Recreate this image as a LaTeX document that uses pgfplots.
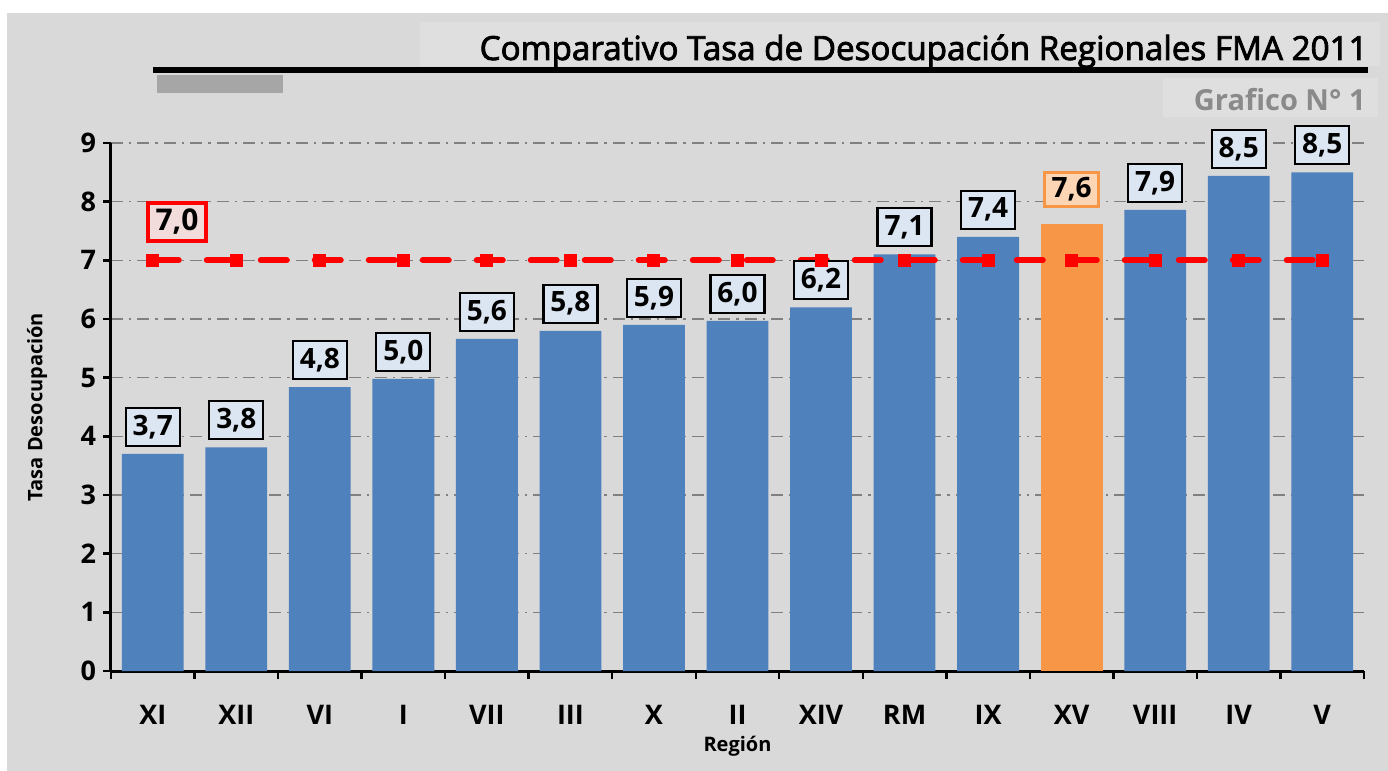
\documentclass[border=0pt]{standalone}
\usepackage{pgfplots}
\pgfplotsset{compat=1.18}
\usepackage{pgfplotstable}
\usepackage{fontspec}
\setmainfont{Open Sans}
\newfontfamily\titlefont[FakeBold=2.5]{Open Sans}
\definecolor{bg}{HTML}{D9D9D9}
\definecolor{tbox}{HTML}{DFDFDF}
\definecolor{gridc}{HTML}{808080}
\definecolor{barblue}{HTML}{4F81BD}
\definecolor{barorange}{HTML}{F79646}
\definecolor{lblue}{HTML}{DCE6F2}
\definecolor{lorange}{HTML}{FCD5B4}
\definecolor{lred}{HTML}{F2DCDB}
\definecolor{grayrect}{HTML}{A6A6A6}
\definecolor{graftext}{HTML}{8A8A8A}
\pgfplotstableread{
x y lab
0 3.70 3,7
1 3.81 3,8
2 4.84 4,8
3 4.98 5,0
4 5.66 5,6
5 5.80 5,8
6 5.90 5,9
7 5.97 6,0
8 6.20 6,2
9 7.10 7,1
10 7.40 7,4
12 7.86 7,9
13 8.44 8,5
14 8.50 8,5
}\bluedata
\pgfplotstableread{
x y lab
11 7.62 7,6
}\orangedata
\pgfplotstableread{
x y
0 7
1 7
2 7
3 7
4 7
5 7
6 7
7 7
8 7
9 7
10 7
11 7
12 7
13 7
14 7
}\refline
\begin{document}
\begin{tikzpicture}
\path[use as bounding box] (0,0) rectangle (694pt,-385.5pt);
\fill[bg] (3.5pt,-6.5pt) rectangle (694pt,-385.5pt);
\fill[tbox] (210pt,-11pt) rectangle (690pt,-33pt);
\node[anchor=base east, inner sep=0pt, font=\titlefont\fontsize{16.6}{18}\selectfont] at (684pt,-30pt) {Comparativo Tasa de Desocupación Regionales FMA 2011};
\fill[black] (76.5pt,-33.5pt) rectangle (684pt,-36.5pt);
\fill[grayrect] (78.5pt,-37.5pt) rectangle (141.5pt,-46.5pt);
\fill[tbox] (581.5pt,-39pt) rectangle (689pt,-58.5pt);
\node[anchor=base east, inner sep=0pt, text=graftext, font=\bfseries\fontsize{14.5}{15}\selectfont] at (683pt,-55pt) {Grafico N° 1};
\begin{axis}[
  at={(55.5pt,-335.5pt)}, anchor=south west,
  scale only axis, width=626.5pt, height=264pt,
  xmin=-0.5, xmax=14.5, ymin=0, ymax=9,
  axis lines*=left,
  axis line style={line width=1.5pt},
  ybar, bar width=0.74, bar shift=0pt,
  ytick={0,1,...,9},
  ymajorgrids,
  major grid style={gridc, line width=0.8pt, dash pattern=on 6pt off 3pt on 1.2pt off 3pt},
  tick align=outside,
  major tick length=4pt,
  tick style={black, line width=1.2pt},
  /pgf/number format/assume math mode=true,
  yticklabel style={font=\bfseries\fontsize{13.5}{14}\selectfont},
  xtick={-0.5,0.5,...,14.5},
  xticklabels={},
  extra x ticks={0,1,...,14},
  extra x tick labels={XI,XII,VI,I,VII,III,X,II,XIV,RM,IX,XV,VIII,IV,V},
  extra x tick style={major tick length=0pt, xticklabel style={anchor=center, yshift=-22pt, font=\bfseries\fontsize{13.5}{14}\selectfont}},
  ylabel={Tasa Desocupación},
  ylabel style={at={(axis description cs:-0.059,0.5)}, anchor=center, font=\bfseries\fontsize{10}{11}\selectfont},
  xlabel={Región},
  xlabel style={at={(axis description cs:0.5,-0.142)}, anchor=center, font=\bfseries\fontsize{10}{11}\selectfont},
  clip=false,
]
\addplot[fill=barblue, draw=none,
  point meta=explicit symbolic,
  nodes near coords,
  nodes near coords style={font=\bfseries\fontsize{14}{14}\selectfont, draw=black, line width=1.1pt, fill=lblue, minimum width=27pt, minimum height=19pt, inner sep=1pt, anchor=south, yshift=3.5pt}]
  table[x=x, y=y, meta=lab] {\bluedata};
\addplot[fill=barorange, draw=none,
  point meta=explicit symbolic,
  nodes near coords,
  nodes near coords style={font=\bfseries\fontsize{14}{14}\selectfont, draw=barorange, line width=1.5pt, fill=lorange, minimum width=27pt, minimum height=17pt, inner sep=1pt, anchor=south, yshift=8pt}]
  table[x=x, y=y, meta=lab] {\orangedata};
\addplot[sharp plot, red, line width=3pt, line cap=round, dash pattern=on 13pt off 14pt,
  mark=square*, mark size=3pt, mark options={solid, fill=red, draw=red, line width=0pt}]
  table[x=x, y=y] {\refline};
\node[draw=red, line width=2pt, fill=lred, minimum width=29pt, minimum height=19pt, inner sep=1pt, font=\bfseries\fontsize{15}{15}\selectfont] at (axis cs:0.29,7.66) {7,0};
\end{axis}
\end{tikzpicture}
\end{document}
